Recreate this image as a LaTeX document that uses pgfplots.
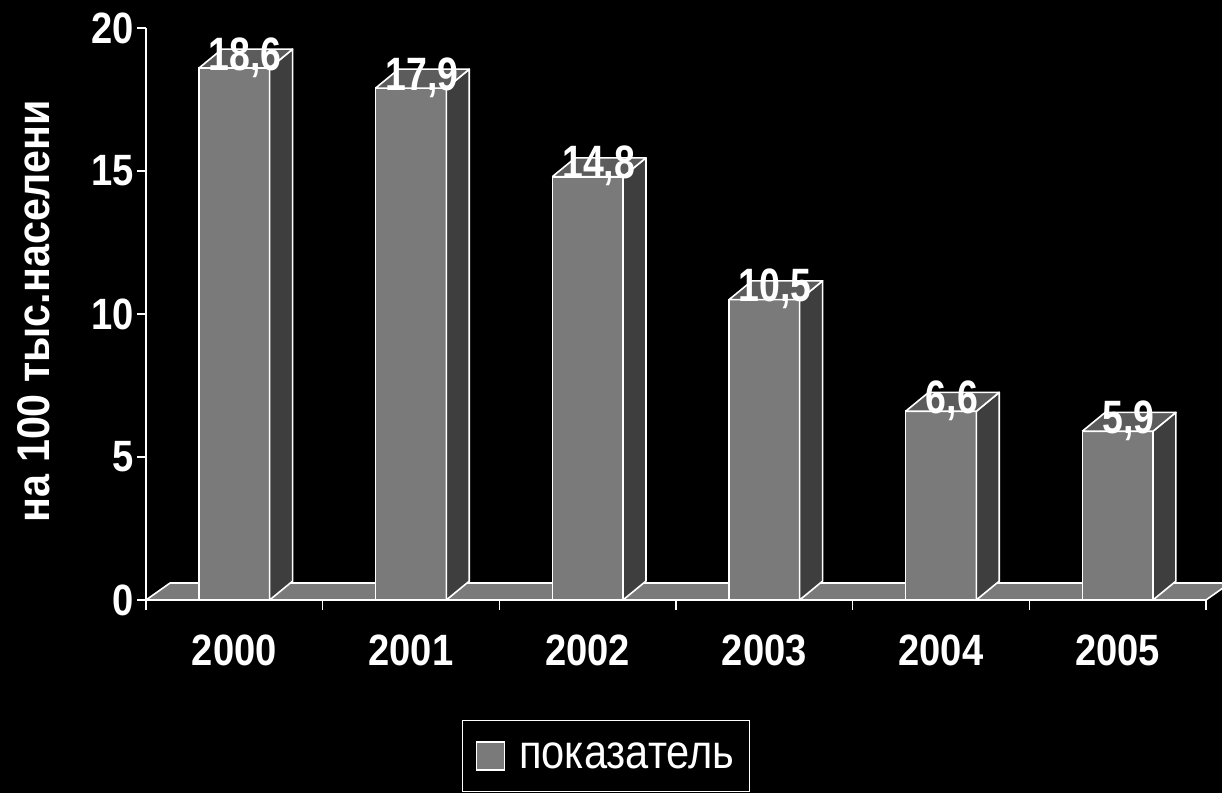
\documentclass[border=0pt]{standalone}
\usepackage{fontspec}
\setmainfont{Liberation Sans}[FakeStretch=0.87]
\newfontfamily\lblfont{Liberation Sans}[FakeStretch=0.80]
\newfontfamily\ylfont{Liberation Sans}[FakeStretch=0.90]
\usepackage{pgfplots}
\pgfplotsset{compat=1.18}
\usepackage{pgfplotstable}
\definecolor{barfront}{HTML}{7A7A7A}
\definecolor{barside}{HTML}{3E3E3E}
\definecolor{bartop}{HTML}{5C5C5C}
\definecolor{floorc}{HTML}{7A7A7A}

\pgfplotstableread{
x y
0 18.6
1 17.9
2 14.8
3 10.5
4 6.6
5 5.9
}\data

\newcommand\ddx{0.13}
\newcommand\ddy{0.66}
\newcommand\hw{0.2}
\newcommand\bigb{\bfseries\fontsize{44}{48}\selectfont}

\newcommand\barfaces[2]{%
  \pgfmathsetmacro\xr{#1+\hw}%
  \pgfmathsetmacro\xl{#1-\hw}%
  \pgfmathsetmacro\xrr{#1+\hw+\ddx}%
  \pgfmathsetmacro\xll{#1-\hw+\ddx}%
  \pgfmathsetmacro\vt{#2+\ddy}%
  \edef\tmp{%
    \noexpand\addplot[forget plot, fill=barside, draw=white, line width=1.6bp, line join=round] coordinates {(\xr,0) (\xrr,\ddy) (\xrr,\vt) (\xr,#2) (\xr,0)};%
    \noexpand\addplot[forget plot, fill=bartop, draw=white, line width=1.6bp, line join=round] coordinates {(\xl,#2) (\xr,#2) (\xrr,\vt) (\xll,\vt) (\xl,#2)};%
  }\tmp}

\begin{document}
\begin{tikzpicture}
\useasboundingbox (0,0) rectangle (1222bp,793bp);
\fill[black] (0,0) rectangle (1222bp,793bp);
\begin{axis}[
  at={(146bp,193bp)}, anchor=south west,
  scale only axis, width=1060bp, height=572bp,
  xmin=-0.5, xmax=5.5, ymin=0, ymax=20,
  enlargelimits=false, clip=false,
  axis x line*=bottom, axis y line*=left,
  axis line style={white, line width=1.3bp},
  tick align=outside,
  every tick/.style={white, line width=1.3bp},
  major tick length=9bp, minor tick length=10bp,
  ytick={0,5,10,15,20},
  xtick={0,1,2,3,4,5},
  xticklabels={2000,2001,2002,2003,2004,2005},
  minor xtick={-0.5,0.5,1.5,2.5,3.5,4.5,5.5},
  major x tick style={draw=none},
  /pgf/number format/assume math mode=true,
  yticklabel style={font=\bigb, text=white},
  xticklabel style={font=\bigb, text=white, yshift=-22bp},
  every axis y label/.style={at={(axis description cs:-0.106,0.505)}, rotate=90, anchor=center, font=\ylfont\bfseries\fontsize{46}{50}\selectfont, text=white},
  ylabel={на 100 тыс.населени},
  legend style={at={(axis description cs:0.434,-0.273)}, anchor=center, draw=white, fill=black, text=white, line width=1.2bp, font=\fontsize{48}{52}\selectfont, inner xsep=13bp, inner ysep=20bp,
    /tikz/every odd column/.append style={column sep=12bp}},
]
\addplot[forget plot, fill=floorc, draw=white, line width=1.6bp, line join=round] coordinates {(-0.5,0) (5.5,0) (5.636,0.594) (-0.364,0.594) (-0.5,0)};
\addplot[ybar, bar width=0.4, fill=barfront, draw=white, line width=1.6bp,
  legend image code/.code={\draw[fill=barfront,draw=white,line width=1.6bp] (0bp,-14bp) rectangle (28bp,14bp);}]
  table[x=x,y=y]{\data};
\addlegendentry{показатель}
\barfaces{0}{18.6}
\barfaces{1}{17.9}
\barfaces{2}{14.8}
\barfaces{3}{10.5}
\barfaces{4}{6.6}
\barfaces{5}{5.9}
\addplot[forget plot, draw=none, mark=none, point meta=y,
  nodes near coords={\pgfmathprintnumber[fixed,fixed zerofill,precision=1,use comma,assume math mode=true]{\pgfplotspointmeta}},
  every node near coord/.append style={anchor=base, inner sep=0pt, xshift=11bp, yshift=-2bp, font=\lblfont\bfseries\fontsize{47}{50}\selectfont, text=white}]
  table[x=x,y=y]{\data};
\end{axis}
\end{tikzpicture}
\end{document}
